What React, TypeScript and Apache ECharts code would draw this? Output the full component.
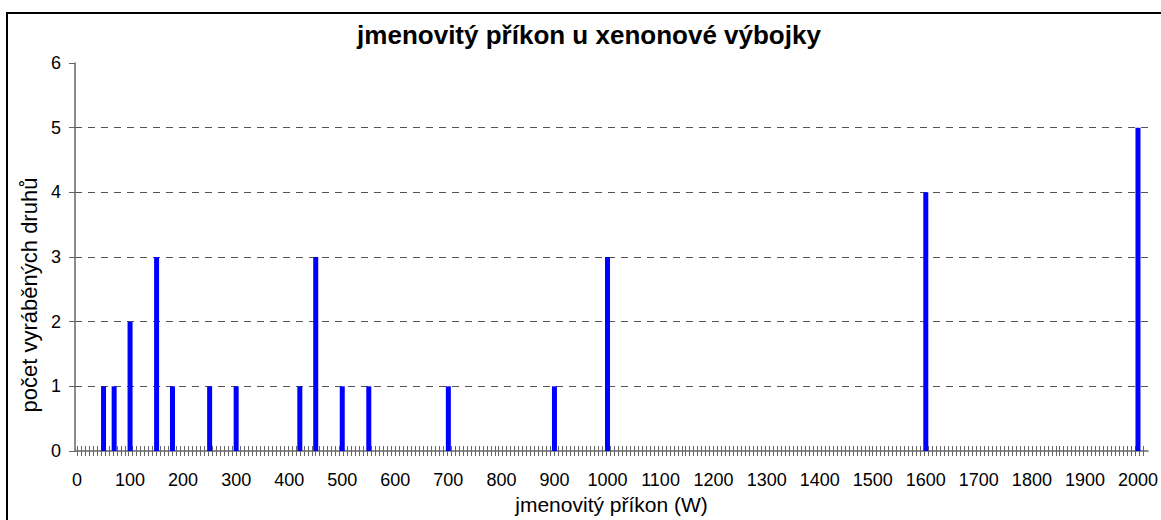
import React, { useEffect, useRef } from "react";
import * as echarts from "echarts";

const powerW = [50, 70, 100, 150, 180, 250, 300, 420, 450, 500, 550, 700, 900, 1000, 1600, 2000];
const typeCounts = [1, 1, 2, 3, 1, 1, 1, 1, 3, 1, 1, 1, 1, 3, 4, 5];
const xTickLabels = [0, 100, 200, 300, 400, 500, 600, 700, 800, 900, 1000, 1100, 1200, 1300, 1400, 1500, 1600, 1700, 1800, 1900, 2000];
const yTickLabels = [0, 1, 2, 3, 4, 5, 6];
const titleText = "jmenovitý příkon u xenonové výbojky";
const xName = "jmenovitý příkon (W)";
const yName = "počet vyráběných druhů";

const FONT = "'Liberation Sans', Arial, sans-serif";
const X_MIN = -3.8;
const X_MAX = 2019;
const TICK_STEP = 7.5;

export default function App() {
  const ref = useRef<HTMLDivElement>(null);
  useEffect(() => {
    if (!ref.current) return;
    const chart = echarts.init(ref.current, undefined, { renderer: "svg" });
    const minorTicks: number[] = [];
    for (let v = 0; v <= 2016; v += TICK_STEP) minorTicks.push(v);
    const axisColor = "#666666";
    chart.setOption({
      animation: false,
      backgroundColor: "#ffffff",
      grid: { left: 75, right: 9, top: 63, bottom: 69 },
      graphic: [
        {
          type: "rect",
          shape: { x: 7, y: 13, width: 1170, height: 530 },
          style: { fill: "none", stroke: "#000", lineWidth: 2 },
          silent: true,
        },
        {
          type: "text",
          x: 589,
          y: 35,
          style: {
            text: titleText,
            font: `bold 26px ${FONT}`,
            fill: "#000",
            textAlign: "center",
            textVerticalAlign: "middle",
          },
        },
        {
          type: "text",
          x: 29,
          y: 295,
          rotation: Math.PI / 2,
          style: {
            text: yName,
            font: `22px ${FONT}`,
            fill: "#000",
            textAlign: "center",
            textVerticalAlign: "middle",
          },
        },
      ],
      xAxis: [
        {
          type: "value",
          min: X_MIN,
          max: X_MAX,
          position: "bottom",
          name: xName,
          nameLocation: "middle",
          nameGap: 41,
          nameTextStyle: { fontFamily: FONT, fontSize: 21, color: "#000" },
          axisLine: { show: true, onZero: false, lineStyle: { color: axisColor, width: 1.5 } },
          axisTick: { show: true, customValues: minorTicks, length: 5, lineStyle: { color: axisColor, width: 1 } },
          axisLabel: {
            customValues: xTickLabels,
            formatter: (v: number) => String(v),
            fontFamily: FONT,
            fontSize: 18,
            color: "#000",
            margin: 20,
          },
          splitLine: { show: false },
        },
        {
          type: "value",
          min: X_MIN,
          max: X_MAX,
          position: "bottom",
          offset: 0,
          axisLine: { show: false, onZero: false },
          axisTick: { show: true, inside: true, customValues: minorTicks, length: 5, lineStyle: { color: axisColor, width: 1 } },
          axisLabel: { show: false },
          splitLine: { show: false },
        },
      ],
      yAxis: {
        type: "value",
        min: yTickLabels[0],
        max: yTickLabels[yTickLabels.length - 1],
        interval: 1,
        axisLine: { show: true, onZero: false, lineStyle: { color: axisColor, width: 1.5 } },
        axisTick: { show: true, length: 6, lineStyle: { color: axisColor } },
        axisLabel: { fontFamily: FONT, fontSize: 18, color: "#000", margin: 14 },
        splitLine: {
          show: true,
          showMinLine: false,
          showMaxLine: false,
          lineStyle: { color: "#555", type: [7, 6], width: 1 },
        },
      },
      series: [
        {
          type: "bar",
          xAxisIndex: 0,
          data: powerW.map((p, i) => [p, typeCounts[i]]),
          barWidth: 5,
          clip: false,
          itemStyle: { color: "#0000ff" },
        },
      ],
    });
    return () => chart.dispose();
  }, []);
  return (
    <div
      ref={ref}
      style={{ position: "fixed", left: 0, top: 0, width: 1161, height: 520, background: "#fff" }}
    />
  );
}
